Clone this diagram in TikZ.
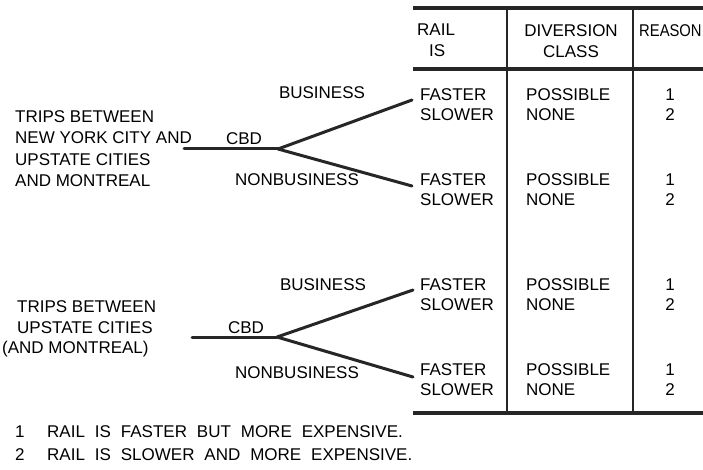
\documentclass[tikz,border=0pt]{standalone}
\usepackage{fontspec}
\setmainfont{Liberation Sans}
\newfontfamily\footfont[WordSpace=2.1]{Liberation Sans}
\begin{document}
\begin{tikzpicture}[x=1pt,y=-1pt,
  txt/.style={inner sep=0pt,anchor=west,font=\fontsize{17}{20}\selectfont},
  ctxt/.style={inner sep=0pt,anchor=center,font=\fontsize{17}{20}\selectfont},
  rule/.style={line width=3.2pt,color=black!85},
  vrule/.style={line width=2.6pt,color=black!85},
  branch/.style={line width=3pt,color=black!85,line cap=round}]
\useasboundingbox (0,0) rectangle (703,470);
% table frame
\coordinate (tl) at (413,8);   \coordinate (tr) at (703,8);
\coordinate (hl) at (413,69);  \coordinate (hr) at (703,69);
\coordinate (bl) at (413,413); \coordinate (br) at (703,413);
\coordinate (v1t) at (507,8);  \coordinate (v1b) at (507,413);
\coordinate (v2t) at (633,8);  \coordinate (v2b) at (633,413);
\draw[rule] (tl) -- (tr);
\draw[rule] (hl) -- (hr);
\draw[rule] (bl) -- (br);
\draw[vrule] (v1t) -- (v1b);
\draw[vrule] (v2t) -- (v2b);
% headers
\node[txt] (hrail) at (417,30) {RAIL};
\node[txt] (his) at (429,51) {IS};
\node[ctxt] (hdiv) at (571,31) {DIVERSION};
\node[ctxt] (hcls) at (571,52) {CLASS};
\node[txt] (hrea) at (639,31) {\scalebox{0.87}[1]{REASON}};
% rows
\foreach \y/\n in {95/a,180/b,285/c,370/d}{
  \node[txt] (f\n) at (420,\y) {FASTER};
  \node[txt] (s\n) at (420,\y+20) {SLOWER};
  \node[txt] (p\n) at (526,\y) {POSSIBLE};
  \node[txt] (n\n) at (526,\y+20) {NONE};
  \node[ctxt] (o\n) at (670,\y) {1};
  \node[ctxt] (t\n) at (670,\y+20) {2};
}
% group 1
\node[txt] (g1a) at (15,117) {TRIPS BETWEEN};
\node[txt] (g1b) at (15,138) {NEW YORK CITY AND};
\node[txt] (g1c) at (15,160) {UPSTATE CITIES};
\node[txt] (g1d) at (15,181) {AND MONTREAL};
\coordinate (s1) at (184,149);
\coordinate (k1) at (278,149);
\coordinate (u1) at (412,100);
\coordinate (l1) at (412,186);
\draw[branch] (s1) -- (k1);
\draw[branch] (k1) -- (u1);
\draw[branch] (k1) -- (l1);
\node[ctxt] (cbd1) at (244,139) {CBD};
\node[ctxt] (bus1) at (322,93) {BUSINESS};
\node[ctxt] (nb1) at (297,180) {NONBUSINESS};
% group 2
\node[txt] (g2a) at (17,307) {TRIPS BETWEEN};
\node[txt] (g2b) at (17,328) {UPSTATE CITIES};
\node[txt] (g2c) at (2,349) {(AND MONTREAL)};
\coordinate (s2) at (192,337);
\coordinate (k2) at (277,337);
\coordinate (u2) at (413,290);
\coordinate (l2) at (413,377);
\draw[branch] (s2) -- (k2);
\draw[branch] (k2) -- (u2);
\draw[branch] (k2) -- (l2);
\node[ctxt] (cbd2) at (246,328) {CBD};
\node[ctxt] (bus2) at (323,285) {BUSINESS};
\node[ctxt] (nb2) at (297,373) {NONBUSINESS};
% footnotes
\node[txt] (k1n) at (15,432) {1};
\node[txt,font=\footfont\fontsize{17}{20}\selectfont] (k1t) at (47,432) {RAIL IS FASTER BUT MORE EXPENSIVE.};
\node[txt] (k2n) at (15,455) {2};
\node[txt,font=\footfont\fontsize{17}{20}\selectfont] (k2t) at (47,455) {RAIL IS SLOWER AND MORE EXPENSIVE.};
\end{tikzpicture}
\end{document}
